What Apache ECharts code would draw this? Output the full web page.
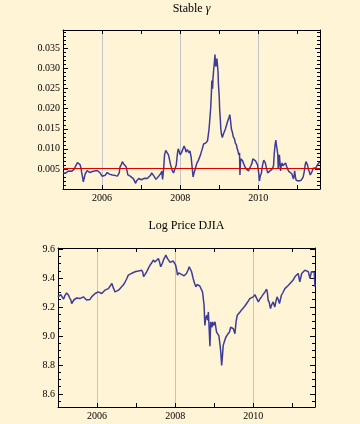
<!DOCTYPE html>
<html><head><meta charset="utf-8">
<script src="https://cdn.jsdelivr.net/npm/echarts@6/dist/echarts.min.js"></script>
<style>html,body{margin:0;padding:0;background:#fff4d6;}#c{width:360px;height:424px;}</style>
</head><body><div id="c"></div>
<script>
// ---- data ----
const gammaDates = [2005.00,2005.03,2005.05,2005.07,2005.09,2005.12,2005.15,2005.18,2005.22,2005.25,2005.28,2005.31,2005.34,2005.37,2005.39,2005.41,2005.44,2005.46,2005.48,2005.50,2005.52,2005.54,2005.55,2005.57,2005.59,2005.62,2005.65,2005.68,2005.70,2005.72,2005.74,2005.77,2005.80,2005.83,2005.85,2005.88,2005.90,2005.93,2005.95,2005.98,
2006.00,2006.03,2006.05,2006.08,2006.10,2006.13,2006.16,2006.19,2006.22,2006.26,2006.29,2006.32,2006.35,2006.39,2006.42,2006.44,2006.46,2006.49,2006.52,2006.55,2006.57,2006.60,2006.62,2006.64,2006.66,2006.69,2006.72,2006.76,2006.80,2006.83,2006.86,2006.88,2006.90,2006.94,2006.97,
2007.01,2007.05,2007.09,2007.12,2007.16,2007.20,2007.24,2007.27,2007.30,2007.33,2007.36,2007.38,2007.42,2007.45,2007.48,2007.50,2007.53,2007.55,2007.58,2007.60,2007.63,2007.65,2007.68,2007.70,2007.73,2007.75,2007.78,2007.80,2007.83,2007.86,2007.88,2007.90,2007.93,2007.95,2007.98,
2008.00,2008.03,2008.05,2008.08,2008.10,2008.13,2008.15,2008.18,2008.20,2008.23,2008.25,2008.28,2008.30,2008.33,2008.35,2008.37,2008.40,2008.43,2008.46,2008.48,2008.52,2008.55,2008.58,2008.60,2008.63,2008.66,2008.68,2008.70,2008.72,2008.74,2008.76,2008.78,2008.80,2008.81,2008.83,2008.84,2008.86,2008.88,2008.89,2008.91,2008.92,2008.94,2008.95,2008.97,2008.98,
2009.00,2009.01,2009.03,2009.04,2009.06,2009.08,2009.10,2009.12,2009.14,2009.16,2009.19,2009.22,2009.25,2009.27,2009.29,2009.31,2009.34,2009.36,2009.39,2009.41,2009.44,2009.46,2009.48,2009.50,2009.52,2009.53,2009.54,2009.55,2009.58,2009.60,2009.63,2009.66,2009.69,2009.72,2009.75,2009.78,2009.81,2009.84,2009.86,2009.88,2009.91,2009.93,2009.96,2009.98,
2010.01,2010.03,2010.05,2010.08,2010.11,2010.14,2010.16,2010.18,2010.21,2010.24,2010.27,2010.30,2010.33,2010.36,2010.39,2010.41,2010.43,2010.45,2010.46,2010.48,2010.50,2010.51,2010.53,2010.54,2010.56,2010.57,2010.59,2010.61,2010.63,2010.66,2010.68,2010.70,2010.72,2010.75,2010.78,2010.80,2010.83,2010.86,2010.88,2010.90,2010.92,2010.93,2010.95,2010.97,
2011.00,2011.03,2011.06,2011.10,2011.13,2011.15,2011.18,2011.20,2011.22,2011.24,2011.26,2011.28,2011.31,2011.33,2011.36,2011.38,2011.41,2011.45,2011.48,2011.50,2011.53,2011.55,2011.58];
const gammaValues = [0.0040,0.0038,0.0043,0.0040,0.0041,0.0044,0.0045,0.0042,0.0044,0.0047,0.0049,0.0053,0.0060,0.0066,0.0070,0.0066,0.0060,0.0052,0.0040,0.0030,0.0018,0.0026,0.0030,0.0038,0.0042,0.0046,0.0045,0.0041,0.0040,0.0044,0.0043,0.0046,0.0045,0.0044,0.0049,0.0046,0.0046,0.0043,0.0040,0.0036,
0.0032,0.0036,0.0030,0.0034,0.0037,0.0041,0.0040,0.0037,0.0038,0.0035,0.0036,0.0034,0.0035,0.0032,0.0030,0.0040,0.0055,0.0060,0.0068,0.0063,0.0066,0.0060,0.0055,0.0045,0.0035,0.0036,0.0032,0.0030,0.0026,0.0022,0.0014,0.0020,0.0022,0.0026,0.0026,
0.0023,0.0025,0.0027,0.0028,0.0026,0.0030,0.0034,0.0040,0.0036,0.0032,0.0029,0.0024,0.0028,0.0032,0.0036,0.0038,0.0044,0.0024,0.0055,0.0085,0.0096,0.0099,0.0092,0.0085,0.0072,0.0062,0.0052,0.0045,0.0040,0.0038,0.0042,0.0060,0.0088,0.0100,0.0092,
0.0085,0.0090,0.0095,0.0102,0.0107,0.0100,0.0092,0.0098,0.0100,0.0090,0.0095,0.0080,0.0060,0.0030,0.0038,0.0045,0.0055,0.0065,0.0070,0.0075,0.0085,0.0095,0.0105,0.0112,0.0110,0.0115,0.0112,0.0120,0.0135,0.0150,0.0175,0.0200,0.0240,0.0270,0.0250,0.0275,0.0300,0.0320,0.0335,0.0305,0.0310,0.0325,0.0315,0.0290,0.0260,
0.0230,0.0200,0.0170,0.0150,0.0135,0.0128,0.0135,0.0140,0.0145,0.0150,0.0160,0.0170,0.0178,0.0185,0.0170,0.0150,0.0140,0.0130,0.0125,0.0115,0.0110,0.0100,0.0095,0.0085,0.0090,0.0035,0.0060,0.0075,0.0072,0.0070,0.0062,0.0055,0.0050,0.0048,0.0045,0.0052,0.0058,0.0065,0.0075,0.0078,0.0072,0.0070,0.0068,0.0060,
0.0040,0.0020,0.0032,0.0040,0.0060,0.0072,0.0068,0.0065,0.0052,0.0040,0.0042,0.0045,0.0048,0.0050,0.0058,0.0090,0.0110,0.0122,0.0112,0.0100,0.0085,0.0050,0.0070,0.0085,0.0060,0.0045,0.0060,0.0065,0.0058,0.0055,0.0062,0.0065,0.0058,0.0050,0.0044,0.0040,0.0042,0.0038,0.0036,0.0025,0.0035,0.0045,0.0030,0.0022,
0.0020,0.0020,0.0022,0.0022,0.0025,0.0030,0.0045,0.0060,0.0068,0.0067,0.0060,0.0050,0.0042,0.0035,0.0040,0.0045,0.0052,0.0055,0.0053,0.0058,0.0062,0.0065,0.0066];
const gammaRef = 0.0051;

const djiaDates = [2005.00,2005.04,2005.07,2005.10,2005.14,2005.18,2005.22,2005.25,2005.27,2005.30,2005.33,2005.35,2005.38,2005.41,2005.44,2005.48,2005.52,2005.56,2005.61,2005.65,2005.69,2005.73,2005.78,2005.82,2005.86,2005.90,2005.95,2005.99,
2006.03,2006.07,2006.12,2006.16,2006.20,2006.25,2006.29,2006.33,2006.38,2006.42,2006.46,2006.50,2006.55,2006.59,2006.63,2006.68,2006.72,2006.76,2006.80,2006.86,2006.93,2006.99,
2007.06,2007.10,2007.14,2007.17,2007.19,2007.23,2007.27,2007.31,2007.36,2007.40,2007.44,2007.48,2007.53,2007.57,2007.60,2007.63,2007.67,2007.70,2007.73,2007.76,2007.80,2007.83,2007.87,2007.91,2007.95,2007.98,
2008.01,2008.04,2008.06,2008.09,2008.12,2008.16,2008.21,2008.23,2008.25,2008.29,2008.33,2008.36,2008.39,2008.42,2008.46,2008.50,2008.53,2008.56,2008.59,2008.63,2008.66,2008.70,2008.72,2008.74,2008.76,2008.78,2008.81,2008.83,2008.85,2008.87,2008.89,2008.91,2008.94,2008.96,2008.98,
2009.02,2009.04,2009.06,2009.10,2009.12,2009.15,2009.17,2009.19,2009.21,2009.23,2009.27,2009.30,2009.34,2009.39,2009.42,2009.45,2009.49,2009.53,2009.56,2009.59,2009.63,2009.66,2009.70,2009.74,2009.78,2009.83,2009.87,2009.91,2009.96,
2010.00,2010.04,2010.09,2010.13,2010.17,2010.21,2010.26,2010.30,2010.34,2010.36,2010.38,2010.41,2010.44,2010.47,2010.51,2010.55,2010.58,2010.61,2010.64,2010.67,2010.72,2010.76,2010.81,2010.85,2010.90,2010.94,2010.98,
2011.03,2011.07,2011.11,2011.15,2011.19,2011.24,2011.28,2011.32,2011.37,2011.41,2011.45,2011.49,2011.52,2011.54,2011.56,2011.58];
const djiaValues = [9.270,9.262,9.285,9.293,9.254,9.280,9.297,9.285,9.281,9.262,9.247,9.224,9.236,9.250,9.247,9.262,9.270,9.258,9.263,9.270,9.258,9.248,9.235,9.252,9.270,9.283,9.293,9.290,
9.304,9.296,9.293,9.305,9.316,9.322,9.327,9.335,9.362,9.330,9.304,9.298,9.316,9.325,9.339,9.355,9.374,9.395,9.420,9.428,9.438,9.445,
9.448,9.452,9.454,9.440,9.410,9.425,9.443,9.465,9.490,9.505,9.524,9.510,9.517,9.535,9.510,9.478,9.500,9.524,9.540,9.558,9.535,9.524,9.508,9.500,9.517,9.505,
9.490,9.455,9.420,9.435,9.443,9.425,9.431,9.415,9.410,9.431,9.455,9.478,9.465,9.443,9.397,9.360,9.339,9.355,9.362,9.345,9.339,9.304,9.260,9.212,9.073,9.120,9.143,9.110,9.166,9.050,8.930,9.097,9.060,9.097,9.073,
9.097,9.060,9.027,9.016,9.000,8.935,8.880,8.796,8.860,8.935,8.970,8.993,9.010,9.027,9.060,9.073,9.050,9.016,9.100,9.143,9.155,9.166,9.180,9.189,9.205,9.224,9.240,9.258,9.262,
9.270,9.285,9.277,9.235,9.255,9.270,9.290,9.304,9.323,9.300,9.247,9.230,9.189,9.215,9.235,9.200,9.240,9.270,9.250,9.224,9.281,9.300,9.327,9.335,9.350,9.360,9.374,
9.390,9.410,9.420,9.431,9.374,9.431,9.440,9.454,9.450,9.443,9.397,9.443,9.430,9.454,9.440,9.339];

const yearTicks = [2006, 2007, 2008, 2009, 2010, 2011];
const yearLabels = [2006, 2008, 2010];
const gammaTicks = [0.005, 0.010, 0.015, 0.020, 0.025, 0.030, 0.035];
const djiaTicks = [8.6, 8.8, 9.0, 9.2, 9.4, 9.6];

// ---- helpers ----
const serif = 'Liberation Serif, Times New Roman, serif';
function minorsOf(ticks, parts, lo, hi) {
  const step = (ticks[1] - ticks[0]) / parts, out = [];
  for (let v = ticks[0] - step * Math.floor((ticks[0] - lo) / step); v < hi; v += step) {
    const r = Math.round(v * 1e6) / 1e6;
    const isMajor = ticks.some(t => Math.abs(t - r) < step / 10);
    if (!isMajor && r > lo && r < hi) out.push(r);
  }
  return out;
}
const black = {color: '#000', width: 1};
function xAxes(g, min, max) {
  return [
    {type: 'value', gridIndex: g, position: 'bottom', min, max,
      axisLine: {show: true, onZero: false, lineStyle: black},
      axisTick: {show: true, inside: true, length: 4, customValues: yearTicks, lineStyle: black},
      axisLabel: {show: true, customValues: yearLabels, fontFamily: serif, fontSize: 10, color: '#000', margin: 4, formatter: v => String(Math.round(v))},
      splitLine: {show: false}},
    {type: 'value', gridIndex: g, position: 'top', min, max,
      axisLine: {show: true, onZero: false, lineStyle: black},
      axisTick: {show: true, inside: true, length: 4, customValues: yearTicks, lineStyle: black},
      axisLabel: {show: false}, splitLine: {show: false}},
    {type: 'value', gridIndex: g, position: 'bottom', min, max,
      axisLine: {show: false, onZero: false},
      axisTick: {show: false, customValues: yearLabels},
      axisLabel: {show: false, customValues: yearLabels},
      splitLine: {show: true, lineStyle: {color: '#c3c3cc', width: 1}}}
  ];
}
function yAxes(g, min, max, ticks, minors, digits) {
  const base = {type: 'value', gridIndex: g, min, max, splitLine: {show: false}};
  return [
    Object.assign({}, base, {position: 'left',
      axisLine: {show: true, onZero: false, lineStyle: black},
      axisTick: {show: true, inside: true, length: 5, customValues: ticks, lineStyle: black},
      axisLabel: {show: true, customValues: ticks, fontFamily: serif, fontSize: 10, color: '#000', margin: 3, formatter: v => v.toFixed(digits)}}),
    Object.assign({}, base, {position: 'left',
      axisLine: {show: false, onZero: false},
      axisTick: {show: true, inside: true, length: 3, customValues: minors, lineStyle: black},
      axisLabel: {show: false, customValues: minors}}),
    Object.assign({}, base, {position: 'right',
      axisLine: {show: true, onZero: false, lineStyle: black},
      axisTick: {show: true, inside: true, length: 5, customValues: ticks, lineStyle: black},
      axisLabel: {show: false, customValues: ticks}}),
    Object.assign({}, base, {position: 'right',
      axisLine: {show: false, onZero: false},
      axisTick: {show: true, inside: true, length: 3, customValues: minors, lineStyle: black},
      axisLabel: {show: false, customValues: minors}})
  ];
}

const xMin = 2005, xMax = 2011.58;
const gMin = 0, gMax = 0.0396, dMin = 8.51, dMax = 9.607;
const lineStyle = {color: '#3d3d99', width: 1.5};
const chart = echarts.init(document.getElementById('c'), null, {renderer: 'canvas'});
chart.setOption({
  backgroundColor: '#fff4d6',
  animation: false,
  grid: [
    {left: 63, top: 30, width: 257, height: 159, containLabel: false},
    {left: 58, top: 248, width: 257, height: 159, containLabel: false}
  ],
  xAxis: [].concat(xAxes(0, xMin, xMax), xAxes(1, xMin, xMax)),
  yAxis: [].concat(
    yAxes(0, gMin, gMax, gammaTicks, minorsOf(gammaTicks, 5, gMin, gMax), 3),
    yAxes(1, dMin, dMax, djiaTicks, minorsOf(djiaTicks, 4, dMin, dMax), 1)),
  graphic: [
    {type: 'text', x: 191.5, y: 9, style: {text: 'Stable {g|γ}', rich: {g: {fontStyle: 'italic', fontFamily: serif, fontSize: 12}}, fontFamily: serif, fontSize: 12, fill: '#000', align: 'center', verticalAlign: 'middle'}},
    {type: 'text', x: 186.5, y: 226, style: {text: 'Log Price DJIA', fontFamily: serif, fontSize: 12, fill: '#000', align: 'center', verticalAlign: 'middle'}}
  ],
  series: [
    {type: 'line', xAxisIndex: 0, yAxisIndex: 0, data: gammaDates.map((d, i) => [d, gammaValues[i]]),
      showSymbol: false, symbol: 'none', lineStyle: lineStyle, z: 3},
    {type: 'line', xAxisIndex: 0, yAxisIndex: 0, data: [[xMin, gammaRef], [xMax, gammaRef]],
      showSymbol: false, symbol: 'none', lineStyle: {color: '#e00000', width: 1.2}, z: 4},
    {type: 'line', xAxisIndex: 3, yAxisIndex: 4, data: djiaDates.map((d, i) => [d, djiaValues[i]]),
      showSymbol: false, symbol: 'none', lineStyle: lineStyle, z: 3}
  ]
});
</script></body></html>
